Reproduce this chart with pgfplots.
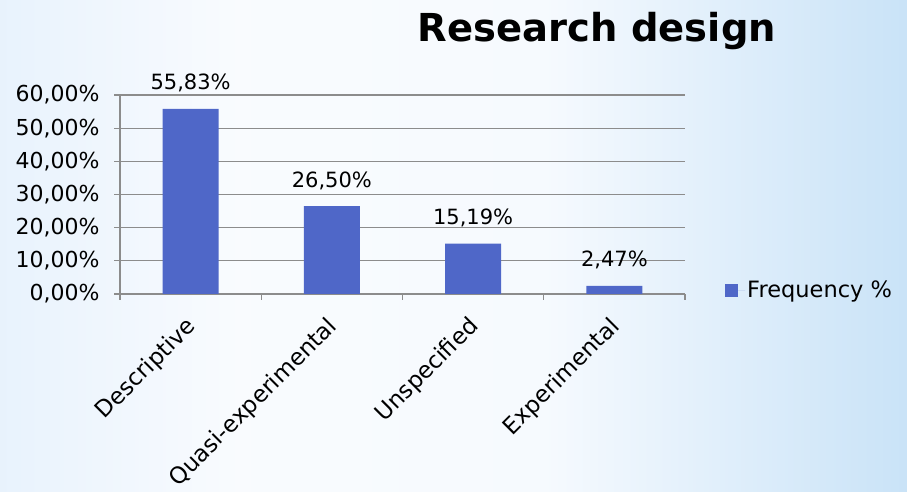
\documentclass[border=0pt]{standalone}
\usepackage{pgfplots}
\pgfplotsset{compat=1.18}
\usepackage{fontspec}
\setmainfont{DejaVu Sans}
\definecolor{barblue}{RGB}{79,103,200}
\definecolor{gridgray}{RGB}{140,140,140}
\pgfdeclarehorizontalshading{bgshade}{100bp}{
  rgb(0bp)=(0.91,0.95,0.99);
  rgb(25bp)=(0.91,0.95,0.99);
  rgb(38bp)=(0.975,0.985,0.998);
  rgb(55bp)=(0.965,0.98,0.997);
  rgb(75bp)=(0.79,0.89,0.97);
  rgb(100bp)=(0.79,0.89,0.97)}
\begin{document}
\begin{tikzpicture}[x=1bp,y=1bp]
\shade[shading=bgshade] (0,0) rectangle (907,492);
\node[font=\fontsize{38.5bp}{44bp}\selectfont\bfseries, anchor=center] at (597,461) {Research design};
\begin{axis}[
  at={(120bp,198bp)}, anchor=south west,
  scale only axis, width=565bp, height=199bp,
  xmin=-0.5, xmax=3.5, ymin=0, ymax=60,
  axis lines*=left,
  axis line style={gridgray, line width=1.2bp},
  ymajorgrids, grid style={gridgray, line width=1.2bp},
  ytick={0,10,...,60},
  xtick={0,1,2,3},
  xticklabels={Descriptive,Quasi-experimental,Unspecified,Experimental},
  minor xtick={-0.5,0.5,1.5,2.5,3.5},
  tick align=outside,
  x tick style={draw=none},
  minor x tick style={draw=gridgray, line width=1.2bp},
  minor tick length=6bp,
  y tick style={gridgray, line width=1.2bp},
  major tick length=6bp,
  /pgf/number format/assume math mode=true,
  yticklabel={\pgfmathprintnumber[fixed,fixed zerofill,precision=2,use comma]{\tick}\%},
  yticklabel style={font=\fontsize{22bp}{26bp}\selectfont, xshift=-11bp},
  xticklabel style={font=\fontsize{23bp}{27bp}\selectfont, xshift=-6bp, yshift=-15bp, rotate=45, anchor=north east, inner sep=0pt},
  ybar, bar width=56bp,
  nodes near coords={\pgfmathprintnumber[fixed,fixed zerofill,precision=2,use comma]{\pgfplotspointmeta}\%},
  nodes near coords style={font=\fontsize{21bp}{25bp}\selectfont, anchor=south, yshift=13bp, text=black},
  legend style={at={(1.0708,0.02)}, anchor=west, draw=none, fill=none, font=\fontsize{22.5bp}{26bp}\selectfont, inner sep=0pt},
  legend image code/.code={\fill[barblue] (0bp,-6.5bp) rectangle (13bp,6.5bp); \path (0bp,0bp) -- (20bp,0bp);},
  clip=false,
]
\addplot[fill=barblue, draw=none] coordinates {(0,55.83) (1,26.50) (2,15.19) (3,2.47)};
\addlegendentry{Frequency \%}
\end{axis}
\pgfresetboundingbox
\path (0,0) rectangle (907,492);
\end{tikzpicture}
\end{document}
